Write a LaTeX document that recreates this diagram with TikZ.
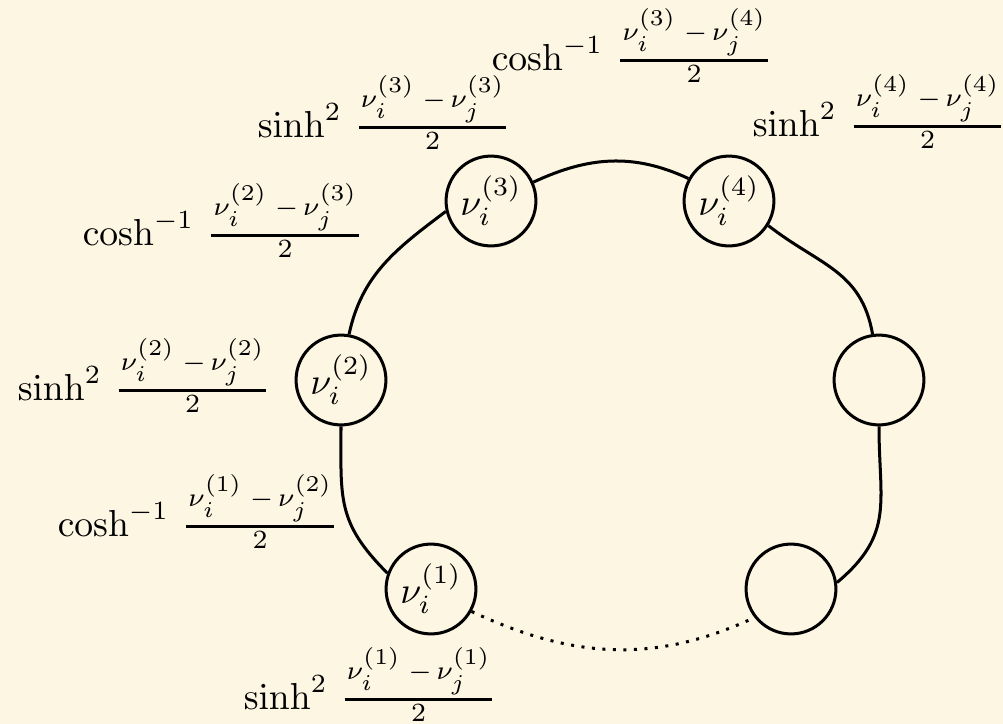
\documentclass[tikz,border=0pt]{standalone}
\usepackage{amsmath}
\DeclareMathSizes{10}{10}{7}{6}
\definecolor{bgcream}{RGB}{253,246,227}
\newcommand{\hfr}[3]{\genfrac{}{}{0.9pt}{1}{\kern0.5pt\nu_i^{(#1)}\kern2pt-\kern1.2pt\nu_j^{(#2)}\kern0.5pt}{#3}}
\begin{document}
\begin{tikzpicture}[x=0.266pt,y=-0.266pt,
  state/.style={circle,draw,thick,minimum size=23.9pt,inner sep=0pt},
  wlabel/.style={anchor=base west,inner sep=0pt},
  link/.style={thick},
  gap/.style={thick,dotted}]
\fill[bgcream] (0,0) rectangle (1003,724);
\useasboundingbox (0,0) rectangle (1003,724);
\node[state] (n1) at (431,589) {$\nu_i^{(1)}$};
\node[state] (n2) at (341,380) {$\nu_i^{(2)}$};
\node[state] (n3) at (491,201) {$\nu_i^{(3)}$};
\node[state] (n4) at (729,201) {$\nu_i^{(4)}$};
\node[state] (r) at (879,380) {};
\node[state] (br) at (791,589) {};
\draw[link] (n2.south) to[out=-90,in=135,looseness=1.2] (n1.160);
\draw[link] (n2.80) to[out=78,in=217] (n3.193);
\draw[link] (n3.24) to[out=25,in=155] (n4.151);
\draw[link] (n4.-32) to[out=-38,in=100,looseness=1.1] (r.98);
\draw[link] (r.south) to[out=-90,in=40,looseness=1.2] (br.8);
\draw[gap] (n1.-29) to[out=-25,in=-155] (br.-142);
\node[wlabel] (l1) at (491,70) {$\cosh^{-1}\,\hfr{3}{4}{2}$};
\node[wlabel] (l2) at (257,137) {$\sinh^{2}\,\hfr{3}{3}{2}$};
\node[wlabel] (l3) at (752,136) {$\sinh^{2}\,\hfr{4}{4}{2}$};
\node[wlabel] (l4) at (82,245) {$\cosh^{-1}\,\hfr{2}{3}{2}$};
\node[wlabel] (l5) at (17,400) {$\sinh^{2}\,\hfr{2}{2}{2}$};
\node[wlabel] (l6) at (57,536) {$\cosh^{-1}\,\hfr{1}{2}{2}$};
\node[wlabel] (l7) at (243,709) {$\sinh^{2}\,\hfr{1}{1}{2}$};
\end{tikzpicture}
\end{document}
